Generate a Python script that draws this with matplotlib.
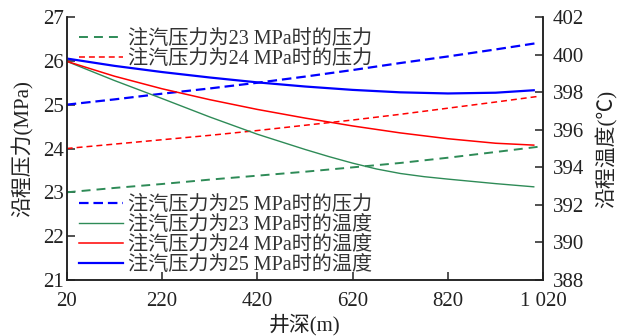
import matplotlib
matplotlib.use("Agg")
import matplotlib.pyplot as plt

plt.rcParams['font.family'] = ['Liberation Serif', 'Noto Sans CJK SC', 'DejaVu Sans']
plt.rcParams['axes.unicode_minus'] = False

# 井深 (m)
depth_p = [20, 120, 220, 320, 420, 520, 620, 720, 820, 920, 1010]
depth_t = [20, 120, 220, 320, 420, 520, 620, 720, 820, 920, 1000]
depth_t23 = [20, 120, 220, 320, 420, 520, 570, 620, 670, 720, 770, 820, 920, 1000]

# 沿程压力 (MPa)
p23 = [23.00, 23.10, 23.19, 23.29, 23.38, 23.47, 23.57, 23.67, 23.79, 23.92, 24.04]
p24 = [24.00, 24.10, 24.20, 24.30, 24.41, 24.53, 24.65, 24.78, 24.92, 25.06, 25.19]
p25 = [25.00, 25.12, 25.25, 25.37, 25.50, 25.64, 25.79, 25.95, 26.10, 26.26, 26.41]

# 沿程温度 (℃)
t23 = [399.64, 398.62, 397.66, 396.68, 395.76, 394.95, 394.57, 394.22, 393.91,
       393.67, 393.50, 393.37, 393.13, 392.96]
t24 = [399.64, 398.85, 398.18, 397.60, 397.08, 396.62, 396.20, 395.83, 395.52, 395.28, 395.18]
t25 = [399.79, 399.40, 399.07, 398.78, 398.52, 398.30, 398.12, 397.99, 397.93, 397.97, 398.10]

labels = ['注汽压力为23 MPa时的压力', '注汽压力为24 MPa时的压力', '注汽压力为25 MPa时的压力',
          '注汽压力为23 MPa时的温度', '注汽压力为24 MPa时的温度', '注汽压力为25 MPa时的温度']
xticks = [20, 220, 420, 620, 820, 1020]
xticklabels = ['20', '220', '420', '620', '820', '1 020']

green = '#2e8b57'
red = '#ff0000'
blue = '#0000ff'
txt = '#222222'

fig = plt.figure(figsize=(6.2, 3.36), dpi=100)
ax = fig.add_axes([66.7/620, 1-280/336, (543.3-66.7)/620, 263/336])
ax2 = ax.twinx()

l1, = ax.plot(depth_p, p23, color=green, lw=1.4, dashes=(4.6, 3.1))
l2, = ax.plot(depth_p, p24, color=red, lw=1.1, dashes=(3.9, 2.6))
l3, = ax.plot(depth_p, p25, color=blue, lw=1.6, dashes=(4.3, 2.2))
l4, = ax2.plot(depth_t23, t23, color=green, lw=1.0)
l5, = ax2.plot(depth_t, t24, color=red, lw=1.1)
l6, = ax2.plot(depth_t, t25, color=blue, lw=1.6)

ax.set_xlim(20, 1020)
ax.set_ylim(21, 27)
ax2.set_ylim(388, 402)
ax.set_xticks(xticks)
ax.set_xticklabels(xticklabels)
ax.set_yticks(range(21, 28))
ax2.set_yticks(range(388, 403, 2))

for a in (ax, ax2):
    a.spines['top'].set_visible(False)
    for s in a.spines.values():
        s.set_color(txt)
        s.set_linewidth(1.1)
ax.tick_params(axis='both', direction='in', length=5.5, width=1.1, color=txt,
               labelsize=15, labelcolor=txt)
ax.tick_params(axis='y', pad=2)
ax.tick_params(axis='x', pad=8.5)
ax2.tick_params(axis='y', direction='in', length=5.5, width=1.1, color=txt,
                labelsize=15, labelcolor=txt, pad=7)

ax.set_xlabel('井深(m)', fontsize=15, color=txt, labelpad=2)
ax.set_ylabel('沿程压力(MPa)', fontsize=15, color=txt, labelpad=7)
ax2.set_ylabel('沿程温度(℃)', fontsize=15, color=txt, rotation=90, labelpad=8)

leg_kw = dict(frameon=False, fontsize=14.5, handlelength=2.2, handletextpad=0.25,
              labelspacing=0.05, borderpad=0, borderaxespad=0, labelcolor='#333333')
leg1 = fig.legend([l1, l2], labels[:2], loc='upper left',
                  bbox_to_anchor=(79/620, 1-30/336), **leg_kw)
leg2 = fig.legend([l3, l4, l5, l6], labels[2:], loc='lower left',
                  bbox_to_anchor=(79/620, 1-275/336), **leg_kw)

fig.savefig('out.png', dpi=100)
